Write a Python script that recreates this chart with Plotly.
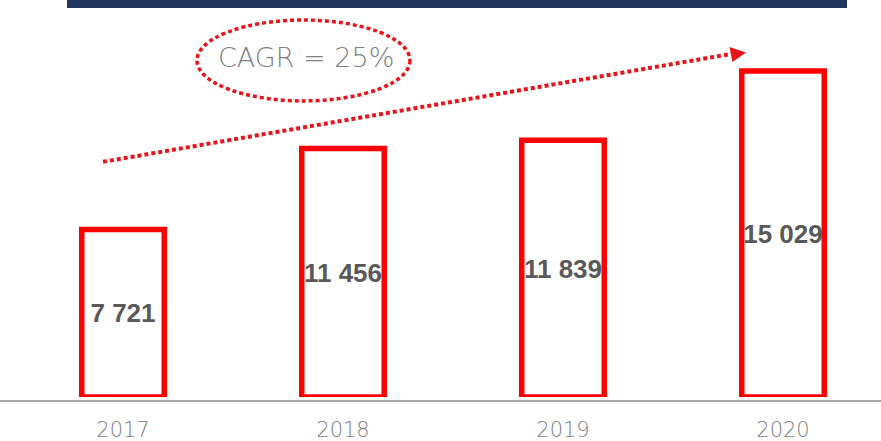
import plotly.graph_objects as go

years = ["2017", "2018", "2019", "2020"]
values = [7721, 11456, 11839, 15029]
labels = ["7 721", "11 456", "11 839", "15 029"]
cagr_text = "CAGR = 25%"

W, H = 881, 441
MT, MB = 41, 43.5
PH = H - MT - MB
BASE_Y = H - MB
KPX = (BASE_Y - 71) / max(values)   # px per unit (tallest bar top edge at ~71)
YMAX = PH / KPX


def px(x):
    return x / W


def py(y):
    return (BASE_Y - y) / PH


fig = go.Figure()
fig.add_trace(go.Bar(
    x=years, y=values, text=labels,
    textposition="inside", insidetextanchor="middle", constraintext="none", textangle=0,
    textfont=dict(family="Liberation Sans, Arial", size=26, color="#595959", weight="bold"),
    marker=dict(color="white", line=dict(color="#FF0000", width=5.5)),
    width=0.375, cliponaxis=False, hoverinfo="skip",
))

shapes = [
    dict(type="rect", xref="paper", yref="paper", x0=px(67), x1=px(847), y0=py(8), y1=py(-2),
         fillcolor="#22355E", line=dict(width=0), layer="above"),
    dict(type="line", xref="paper", yref="paper", x0=0, x1=1, y0=py(401.5), y1=py(401.5),
         line=dict(color="#A6A6A6", width=2)),
    dict(type="line", xref="paper", yref="paper", x0=px(103), y0=py(162), x1=px(731), y1=py(54),
         line=dict(color="#E8141B", width=4, dash="4px,3px")),
    dict(type="path", xref="paper", yref="paper",
         path=f"M {px(729.5)} {py(47)} L {px(746)} {py(52.5)} L {px(732.5)} {py(62)} Z",
         fillcolor="#E8141B", line=dict(width=0)),
    dict(type="circle", xref="paper", yref="paper", x0=px(197), x1=px(410), y0=py(101), y1=py(20),
         line=dict(color="#E8141B", width=3.5, dash="4px,3px")),
]

fig.add_annotation(x=px(306), y=py(58), xref="paper", yref="paper", text=cagr_text,
                   showarrow=False, xanchor="center", yanchor="middle",
                   font=dict(family="DejaVu Sans", size=27, color="#808080", weight=200))

fig.update_layout(
    width=W, height=H, margin=dict(l=0, r=0, t=MT, b=MB, autoexpand=False),
    paper_bgcolor="white", plot_bgcolor="white", showlegend=False,
    shapes=shapes,
    xaxis=dict(type="category", range=[-0.5591, 3.4455], showgrid=False, zeroline=False,
               showline=False, automargin=False, ticks="outside", ticklen=14,
               tickcolor="rgba(0,0,0,0)",
               tickfont=dict(family="DejaVu Sans", size=21, color="#7F7F7F", weight=200)),
    yaxis=dict(range=[0, YMAX], visible=False, showgrid=False, zeroline=False, automargin=False),
)

fig.write_html(
    "out.html",
    config={"displayModeBar": False, "staticPlot": True},
    post_script=(
        "document.documentElement.style.margin='0';"
        "document.documentElement.style.overflow='hidden';"
        "document.body.style.margin='0';"
        "document.body.style.overflow='hidden';"
    ),
)
